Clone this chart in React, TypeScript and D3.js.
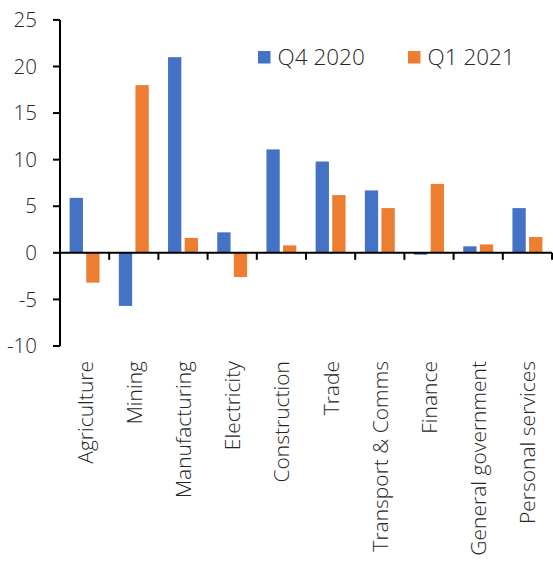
import React from "react";
import * as d3 from "d3";

const categories = [
  "Agriculture",
  "Mining",
  "Manufacturing",
  "Electricity",
  "Construction",
  "Trade",
  "Transport & Comms",
  "Finance",
  "General government",
  "Personal services",
];
const q4_2020 = [5.9, -5.7, 21.0, 2.2, 11.1, 9.8, 6.7, -0.2, 0.7, 4.8];
const q1_2021 = [-3.2, 18.0, 1.6, -2.6, 0.8, 6.2, 4.8, 7.4, 0.9, 1.7];
const seriesNames = ["Q4 2020", "Q1 2021"];
const seriesColors = ["#4472C4", "#ED7D31"];
const yTicks = [-10, -5, 0, 5, 10, 15, 20, 25];

const W = 553;
const H = 563;
const FONT = "'Open Sans', sans-serif";
const TEXT = "#262626";

export default function App() {
  const x0 = 60;
  const x1 = 552;
  const y = d3.scaleLinear().domain([-10, 25]).range([346, 19.9]);
  const x = d3.scaleBand<string>().domain(categories).range([x0, x1]).paddingInner(0).paddingOuter(0);
  const inner = d3
    .scaleBand<number>()
    .domain([0, 1])
    .range([0, x.bandwidth()])
    .paddingInner(0.2)
    .paddingOuter(0.58);
  const series = [q4_2020, q1_2021];
  const zeroY = y(0);

  return (
    <svg width={W} height={H} style={{ position: "absolute", left: 0, top: 0 }}>
      <rect width={W} height={H} fill="#fff" />
      {/* bars */}
      {series.map((vals, si) =>
        vals.map((v, i) => (
          <rect
            key={`${si}-${i}`}
            x={(x(categories[i]) ?? 0) + (inner(si) ?? 0)}
            y={Math.min(y(v), zeroY)}
            width={inner.bandwidth()}
            height={Math.abs(y(v) - zeroY)}
            fill={seriesColors[si]}
          />
        ))
      )}
      {/* y axis */}
      <line x1={x0} x2={x0} y1={y(25)} y2={y(-10)} stroke="#000" strokeWidth={2} />
      {yTicks.map((t) => (
        <g key={t}>
          <line x1={x0 - 7} x2={x0} y1={y(t)} y2={y(t)} stroke="#000" strokeWidth={2} />
          <text
            x={37}
            y={y(t)}
            dy="0.35em"
            textAnchor="end"
            fontFamily={FONT}
            fontWeight={300}
            fontSize={20.5}
            fill={TEXT}
          >
            {t}
          </text>
        </g>
      ))}
      {/* category axis along zero */}
      <line x1={x0} x2={x1} y1={zeroY} y2={zeroY} stroke="#000" strokeWidth={2} />
      {categories.map((c) => (
        <line
          key={c}
          x1={(x(c) ?? 0) + x.bandwidth()}
          x2={(x(c) ?? 0) + x.bandwidth()}
          y1={zeroY}
          y2={zeroY + 7}
          stroke="#000"
          strokeWidth={2}
        />
      ))}
      {categories.map((c) => {
        const cx = (x(c) ?? 0) + x.bandwidth() / 2;
        return (
          <text
            key={c}
            transform={`translate(${cx + 8},361) rotate(-90)`}
            textAnchor="end"
            fontFamily={FONT}
            fontWeight={300}
            fontSize={21}
            fill={TEXT}
          >
            {c}
          </text>
        );
      })}
      {/* legend */}
      {seriesNames.map((n, i) => {
        const lx = i === 0 ? 258 : 408;
        return (
          <g key={n}>
            <rect x={lx} y={51} width={12.5} height={12.5} fill={seriesColors[i]} />
            <text x={lx + 19.5} y={65} fontFamily={FONT} fontWeight={300} fontSize={22.5} fill={TEXT}>
              {n}
            </text>
          </g>
        );
      })}
    </svg>
  );
}
